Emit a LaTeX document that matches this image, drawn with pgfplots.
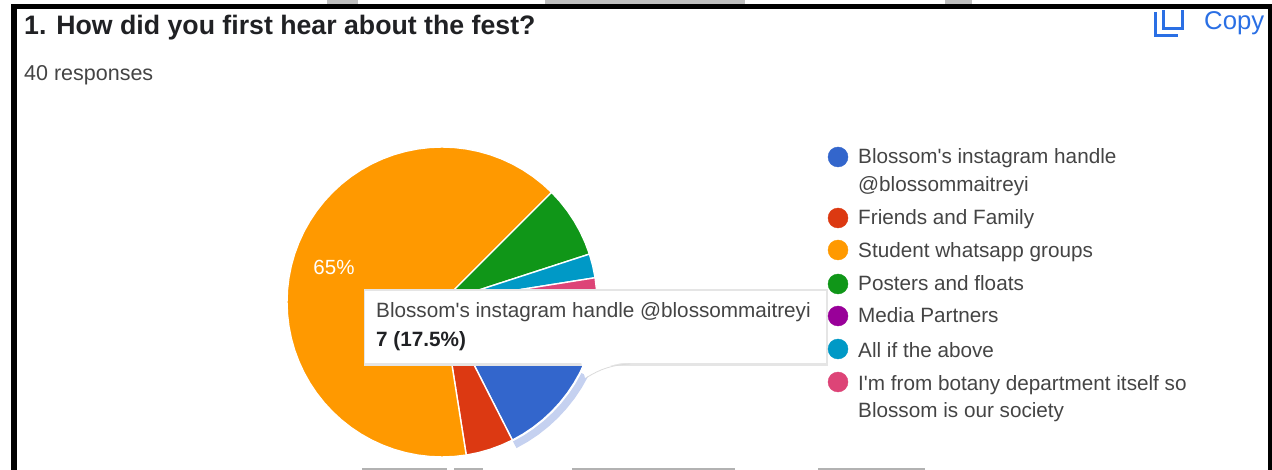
\documentclass[border=0pt]{standalone}
\usepackage{fontspec}
\setmainfont{Liberation Sans}[Ligatures=TeXOff]
\usepackage{pgfplots}
\pgfplotsset{compat=1.18}
\usepgfplotslibrary{polar}
\definecolor{cBlue}{HTML}{3366CC}
\definecolor{cRed}{HTML}{DC3912}
\definecolor{cOrange}{HTML}{FF9900}
\definecolor{cGreen}{HTML}{109618}
\definecolor{cPurple}{HTML}{990099}
\definecolor{cTeal}{HTML}{0099C6}
\definecolor{cPink}{HTML}{DD4477}
\definecolor{cRing}{HTML}{C5D1F0}
\definecolor{cCopy}{HTML}{2A6FE4}
\definecolor{cText}{HTML}{444444}
\definecolor{cTitle}{HTML}{202124}
\newcommand{\fs}[1]{\fontsize{#1}{#1}\selectfont}
\begin{document}
\begin{tikzpicture}[x=1pt,y=1pt]
\path[use as bounding box] (0,0) rectangle (1272pt,470pt);
% --- pie: angles in degrees, radius in px; shares 17.5, 5, 65, 7.5, 0, 2.5, 2.5 %, clockwise from 3 o'clock
\begin{polaraxis}[at={(442pt,168pt)},anchor=center,scale only axis,width=340pt,height=340pt,
  ymin=0,ymax=170,hide axis,clip=false]
\addplot[fill=cRing,draw=none] coordinates {(297,156.5)(301.5,156.5)(306,156.5)(310.5,156.5)(315,156.5)(319.5,156.5)(324,156.5)(328.5,156.5)(333,156.5)(333,164)(328.5,164)(324,164)(319.5,164)(315,164)(310.5,164)(306,164)(301.5,164)(297,164)} -- cycle;
\addplot[fill=cBlue,draw=white,line width=1.4pt,line join=round] coordinates {(0,0)(297,155)(301.5,155)(306,155)(310.5,155)(315,155)(319.5,155)(324,155)(328.5,155)(333,155)(337.5,155)(342,155)(346.5,155)(351,155)(355.5,155)(360,155)} -- cycle;
\addplot[fill=cRed,draw=white,line width=1.4pt,line join=round] coordinates {(0,0)(279,155)(283.5,155)(288,155)(292.5,155)(297,155)} -- cycle;
\addplot[fill=cOrange,draw=white,line width=1.4pt,line join=round] coordinates {(0,0)(45,155)(49.5,155)(54,155)(58.5,155)(63,155)(67.5,155)(72,155)(76.5,155)(81,155)(85.5,155)(90,155)(94.5,155)(99,155)(103.5,155)(108,155)(112.5,155)(117,155)(121.5,155)(126,155)(130.5,155)(135,155)(139.5,155)(144,155)(148.5,155)(153,155)(157.5,155)(162,155)(166.5,155)(171,155)(175.5,155)(180,155)(184.5,155)(189,155)(193.5,155)(198,155)(202.5,155)(207,155)(211.5,155)(216,155)(220.5,155)(225,155)(229.5,155)(234,155)(238.5,155)(243,155)(247.5,155)(252,155)(256.5,155)(261,155)(265.5,155)(270,155)(274.5,155)(279,155)} -- cycle;
\addplot[fill=cGreen,draw=white,line width=1.4pt,line join=round] coordinates {(0,0)(18,155)(22.5,155)(27,155)(31.5,155)(36,155)(40.5,155)(45,155)} -- cycle;
\addplot[fill=cTeal,draw=white,line width=1.4pt,line join=round] coordinates {(0,0)(9,155)(13.5,155)(18,155)} -- cycle;
\addplot[fill=cPink,draw=white,line width=1.4pt,line join=round] coordinates {(0,0)(0,155)(4.5,155)(9,155)} -- cycle;
\end{polaraxis}
% --- page overlay, coordinates in reference pixels
\begin{axis}[at={(0pt,0pt)},anchor=south west,scale only axis,width=1272pt,height=470pt,
  xmin=0,xmax=1272,ymin=0,ymax=470,y dir=reverse,hide axis,clip=false]
% frame and cropped bits of the screenshot
\fill[black] (axis cs:11,4) rectangle (axis cs:1272,9);
\fill[black] (axis cs:11,4) rectangle (axis cs:17,470);
\fill[black] (axis cs:1268,4) rectangle (axis cs:1272,470);
\fill[black!25] (axis cs:327,0) rectangle (axis cs:358,4);
\fill[black!25] (axis cs:545,0) rectangle (axis cs:745,4);
\fill[black!25] (axis cs:945,0) rectangle (axis cs:972,4);
\fill[black!30] (axis cs:362,468) rectangle (axis cs:447,470);
\fill[black!30] (axis cs:454,468) rectangle (axis cs:483,470);
\fill[black!30] (axis cs:572,468) rectangle (axis cs:735,470);
\fill[black!30] (axis cs:818,468) rectangle (axis cs:925,470);
% texts at the head
\node[anchor=base west,inner sep=0pt,text=cTitle,font=\fs{26.7}\bfseries] at (axis cs:24,35) {1. How did you first hear about the fest?};
\node[anchor=base west,inner sep=0pt,text=cText,font=\fs{21.5}] at (axis cs:24,81) {40 responses};
% copy icon
\draw[cCopy,line width=3pt] (axis cs:1155.5,12) -- (axis cs:1155.5,35.5) -- (axis cs:1178,35.5);
\draw[cCopy,line width=3pt] (axis cs:1163.5,10) -- (axis cs:1163.5,28.5) -- (axis cs:1182,28.5) -- (axis cs:1182,10);
\node[anchor=base west,inner sep=0pt,text=cCopy,font=\fs{25.7}] at (axis cs:1204,30) {Copy};
% pie label
\node[anchor=center,inner sep=0pt,text=white,font=\fs{20.5}] at (axis cs:334,267) {65\%};
% tooltip
\fill[black!10] (axis cs:363.5,289.5) rectangle (axis cs:828,365.5);
\fill[white] (axis cs:365,291) rectangle (axis cs:826,363);
\fill[white] (axis cs:581,362) -- (axis cs:585,378) .. controls (axis cs:600,368) and (axis cs:612,364) .. (axis cs:630,362) -- cycle;
\draw[black!14,line width=0.8pt] (axis cs:586,378) .. controls (axis cs:600,369) and (axis cs:612,365) .. (axis cs:630,364);
\node[anchor=base west,inner sep=0pt,text=cText,font=\fs{20.7}] at (axis cs:376,318) {Blossom's instagram handle @blossommaitreyi};
\node[anchor=base west,inner sep=0pt,text=cTitle,font=\fs{20.7}\bfseries] at (axis cs:376,347) {7 (17.5\%)};
% legend
\addplot[only marks,mark=*,mark size=10pt,cBlue,mark options={draw=none,fill=cBlue}] coordinates {(838,157)};
\addplot[only marks,mark=*,mark size=10pt,cRed,mark options={draw=none,fill=cRed}] coordinates {(838,218)};
\addplot[only marks,mark=*,mark size=10pt,cOrange,mark options={draw=none,fill=cOrange}] coordinates {(838,250)};
\addplot[only marks,mark=*,mark size=10pt,cGreen,mark options={draw=none,fill=cGreen}] coordinates {(838,284)};
\addplot[only marks,mark=*,mark size=10pt,cPurple,mark options={draw=none,fill=cPurple}] coordinates {(838,316)};
\addplot[only marks,mark=*,mark size=10pt,cTeal,mark options={draw=none,fill=cTeal}] coordinates {(838,349)};
\addplot[only marks,mark=*,mark size=10pt,cPink,mark options={draw=none,fill=cPink}] coordinates {(838,382)};
\foreach \yy/\tt in {164/Blossom's instagram handle,192/@blossommaitreyi,225/Friends and Family,258/Student whatsapp groups,291/Posters and floats,323/Media Partners,357/All if the above,390/I'm from botany department itself so,417/Blossom is our society}{
  \edef\tmp{\noexpand\node[anchor=base west,inner sep=0pt,text=cText,font=\noexpand\fs{20.7}] at (axis cs:858,\yy) {\tt};}
  \tmp
}
\end{axis}
\end{tikzpicture}
\end{document}
